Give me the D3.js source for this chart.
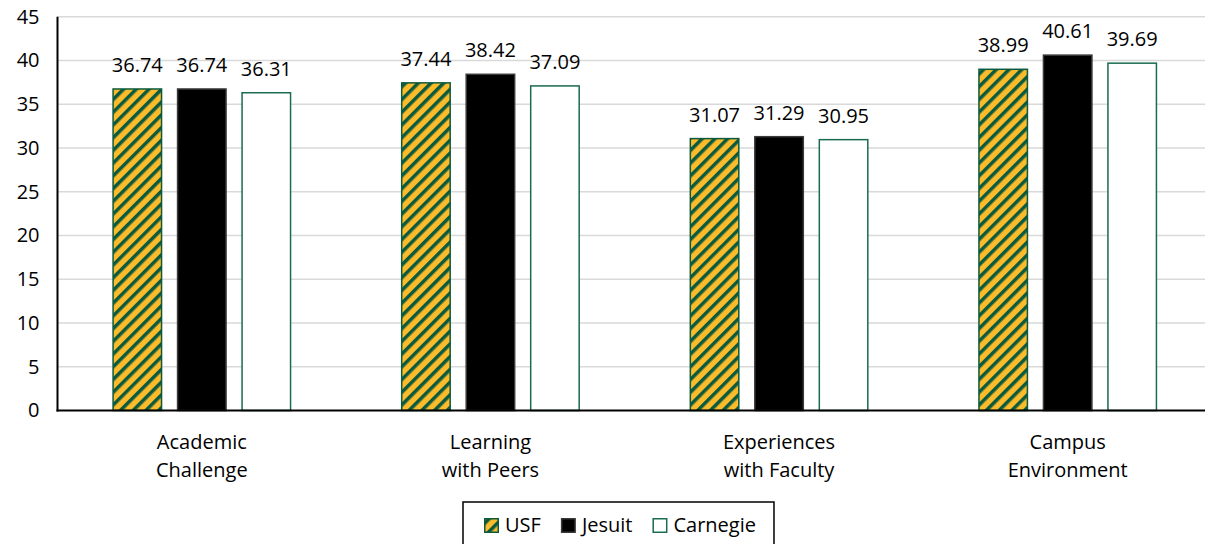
<!DOCTYPE html>
<html>
<head>
<meta charset="utf-8">
<script src="https://cdn.jsdelivr.net/npm/d3@7"></script>
<style>
  html, body { margin: 0; padding: 0; background: #fff; }
  svg { display: block; font-family: "Open Sans", "Liberation Sans", sans-serif; }
</style>
</head>
<body>
<svg id="chart" width="1205" height="544"></svg>
<script>
// Engagement indicator means by comparison group
const categories = [["Academic", "Challenge"], ["Learning", "with Peers"], ["Experiences", "with Faculty"], ["Campus", "Environment"]];
const series = ["USF", "Jesuit", "Carnegie"];
const usfValues = [36.74, 37.44, 31.07, 38.99];
const jesuitValues = [36.74, 38.42, 31.29, 40.61];
const carnegieValues = [36.31, 37.09, 30.95, 39.69];
const yTicks = [0, 5, 10, 15, 20, 25, 30, 35, 40, 45];

const valuesBySeries = { USF: usfValues, Jesuit: jesuitValues, Carnegie: carnegieValues };
const GREEN = "#0b5a3d";
const GOLD = "#fbbb2a";

const svg = d3.select("#chart");
const plot = { left: 57.5, right: 1212, top: 16.7, bottom: 410.5 };

// Diagonal stripe fill used for the USF series
const defs = svg.append("defs");
const pat = defs.append("pattern")
  .attr("id", "usfStripes")
  .attr("patternUnits", "userSpaceOnUse")
  .attr("width", 9).attr("height", 9)
  .attr("patternTransform", "rotate(45)");
pat.append("rect").attr("width", 9).attr("height", 9).attr("fill", GOLD);
pat.append("rect").attr("width", 3.5).attr("height", 9).attr("fill", GREEN);

const fills = { USF: "url(#usfStripes)", Jesuit: "#000", Carnegie: "#fff" };
const strokes = { USF: GREEN, Jesuit: "#3a3a3a", Carnegie: "#1b6a52" };

const catKeys = categories.map(c => c.join(" "));
const x0 = d3.scaleBand().domain(catKeys).range([plot.left, plot.right]);
const x1 = d3.scaleBand().domain(series).range([0, x0.bandwidth()])
  .paddingInner(0.225).paddingOuter(0.85);
const y = d3.scaleLinear().domain([0, 45]).range([plot.bottom, plot.top]);

// Horizontal gridlines
svg.append("g").selectAll("line").data(yTicks.filter(t => t > 0)).join("line")
  .attr("x1", plot.left).attr("x2", 1205)
  .attr("y1", d => y(d)).attr("y2", d => y(d))
  .attr("stroke", "#d9d9d9").attr("stroke-width", 1.5);

// Y axis labels
const yAxis = svg.append("g").attr("transform", `translate(${plot.left},0)`)
  .call(d3.axisLeft(y).tickValues(yTicks).tickSize(0).tickPadding(18));
yAxis.select(".domain").remove();
yAxis.selectAll("text").attr("font-size", 20).attr("fill", "#000")
  .attr("font-family", "'Open Sans', 'Liberation Sans', sans-serif");

// Bars
const groups = svg.append("g").selectAll("g").data(catKeys).join("g")
  .attr("transform", d => `translate(${x0(d)},0)`);

groups.each(function(cat, ci) {
  const g = d3.select(this);
  const rows = series.map(s => ({ s, v: valuesBySeries[s][ci] }));
  g.selectAll("rect").data(rows).join("rect")
    .attr("x", d => x1(d.s) + 0.75)
    .attr("width", x1.bandwidth() - 1.5)
    .attr("y", d => y(d.v))
    .attr("height", d => y(0) - y(d.v))
    .attr("fill", d => fills[d.s])
    .attr("stroke", d => strokes[d.s])
    .attr("stroke-width", 1.5);
  g.selectAll("text").data(rows).join("text")
    .attr("x", d => x1(d.s) + x1.bandwidth() / 2)
    .attr("y", d => y(d.v) - 17)
    .attr("text-anchor", "middle")
    .attr("font-size", 20)
    .attr("fill", "#000")
    .text(d => d.v.toFixed(2));
});

// Axis lines
svg.append("line").attr("x1", plot.left).attr("x2", plot.left).attr("y1", plot.top).attr("y2", plot.bottom + 1)
  .attr("stroke", "#000").attr("stroke-width", 2);
svg.append("line").attr("x1", plot.left - 1).attr("x2", 1205).attr("y1", plot.bottom).attr("y2", plot.bottom)
  .attr("stroke", "#000").attr("stroke-width", 2);

// Category labels (two lines each)
const catLabels = svg.append("g").selectAll("text").data(categories).join("text")
  .attr("x", (d, i) => x0(catKeys[i]) + x0.bandwidth() / 2)
  .attr("y", 449)
  .attr("text-anchor", "middle")
  .attr("font-size", 20)
  .attr("fill", "#000");
catLabels.each(function(d) {
  const t = d3.select(this);
  d.forEach((line, i) => {
    t.append("tspan").attr("x", t.attr("x")).attr("dy", i === 0 ? 0 : 28).text(line);
  });
});

// Legend
const legend = svg.append("g");
const legendBox = legend.append("rect")
  .attr("x", 463).attr("y", 502).attr("height", 50)
  .attr("fill", "#fff").attr("stroke", "#000").attr("stroke-width", 1.5);
let lx = 484;
series.forEach(s => {
  legend.append("rect")
    .attr("x", lx + 0.75).attr("y", 518.75).attr("width", 13.5).attr("height", 13.5)
    .attr("fill", fills[s]).attr("stroke", strokes[s]).attr("stroke-width", 1.5);
  const t = legend.append("text")
    .attr("x", lx + 21).attr("y", 532)
    .attr("font-size", 20).attr("fill", "#000").text(s);
  lx = lx + 21 + t.node().getComputedTextLength() + 20;
});
legendBox.attr("width", lx - 20 + 18 - 463);
</script>
</body>
</html>
